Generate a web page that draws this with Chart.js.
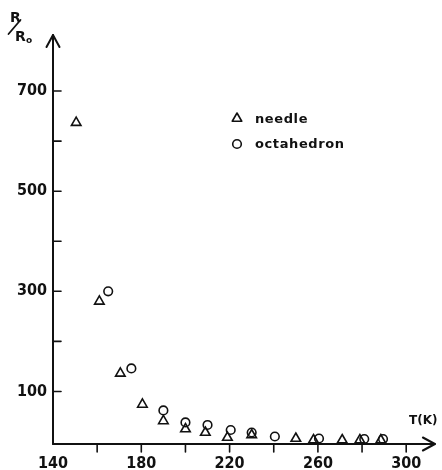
<!DOCTYPE html>
<html><head><meta charset="utf-8">
<script src="https://cdn.jsdelivr.net/npm/chart.js@4/dist/chart.umd.min.js"></script>
<style>html,body{margin:0;padding:0;background:#fff;} #wrap{position:relative;width:442px;height:470px;}</style>
</head><body><div id="wrap"><canvas id="c" width="442" height="470"></canvas></div>
<script>
const needleT = [150.5, 161, 170.5, 180.5, 190, 200, 209, 219, 230, 250, 258, 271, 279, 288.5];
const needleR = [637, 280, 136, 74, 41, 25, 18, 8, 13, 6, 3, 3, 3, 3];
const octaT = [165, 175.5, 190, 200, 210, 220.5, 230, 240.5, 260.5, 281, 289.5];
const octaR = [300, 146, 62, 38, 33, 23, 18, 10, 6, 5, 5];
const xTickValues = [140, 160, 180, 200, 220, 240, 260, 280, 300];
const xTickLabels = [140, 180, 220, 260, 300];
const yTickValues = [100, 200, 300, 400, 500, 600, 700];
const yTickLabels = [100, 300, 500, 700];
const seriesNames = ['needle', 'octahedron'];
const xTitle = 'T(K)';

const toPts = (xs, ys) => xs.map((x, i) => ({x: x, y: ys[i]}));
const INK = '#111';

const axesPlugin = {
  id: 'axesPlugin',
  afterDraw(chart) {
    const ctx = chart.ctx;
    const xs = chart.scales.x, ys = chart.scales.y;
    const ca = chart.chartArea;
    const x0 = ca.left, y0 = ca.bottom;
    ctx.save();
    ctx.strokeStyle = INK; ctx.fillStyle = INK;
    ctx.lineWidth = 2; ctx.lineCap = 'round'; ctx.lineJoin = 'round';
    // y axis
    ctx.beginPath(); ctx.moveTo(x0, y0); ctx.lineTo(x0, ca.top); ctx.stroke();
    ctx.beginPath(); ctx.moveTo(x0 - 6.5, ca.top + 12); ctx.lineTo(x0, ca.top); ctx.lineTo(x0 + 6.5, ca.top + 12); ctx.stroke();
    // x axis
    ctx.beginPath(); ctx.moveTo(x0, y0); ctx.lineTo(ca.right, y0); ctx.stroke();
    ctx.beginPath(); ctx.moveTo(ca.right - 12, y0 - 6.5); ctx.lineTo(ca.right, y0); ctx.lineTo(ca.right - 12, y0 + 6.5); ctx.stroke();
    // ticks
    ctx.lineWidth = 1.6;
    yTickValues.forEach(v => { const p = ys.getPixelForValue(v); ctx.beginPath(); ctx.moveTo(x0, p); ctx.lineTo(x0 + 8, p); ctx.stroke(); });
    xTickValues.forEach(v => { if (v === xs.min) return; const p = xs.getPixelForValue(v); ctx.beginPath(); ctx.moveTo(p, y0); ctx.lineTo(p, y0 + 8); ctx.stroke(); });
    // legend
    const legY = [118.5, 144];
    chart.data.datasets.forEach((ds, i) => {
      ctx.fillStyle = 'rgba(0,0,0,0)'; ctx.strokeStyle = INK; ctx.lineWidth = 1.6;
      Chart.helpers.drawPoint(ctx, {pointStyle: ds.pointStyle, radius: ds.pointRadius, borderWidth: 1.6}, 237, legY[i]);
      ctx.fillStyle = INK;
      ctx.font = 'bold 13px "DejaVu Sans"';
      try { ctx.letterSpacing = '0.6px'; } catch (e) {}
      ctx.textBaseline = 'middle'; ctx.textAlign = 'left';
      ctx.fillText(ds.label, 255, legY[i] + 1);
    });
    try { ctx.letterSpacing = '0px'; } catch (e) {}
    ctx.fillStyle = INK;
    // x title
    ctx.font = 'bold 12px "DejaVu Sans"';
    ctx.textAlign = 'left'; ctx.textBaseline = 'middle';
    ctx.fillText(xTitle, 409, 421);
    // y title R/Ro
    ctx.font = 'bold 14px "DejaVu Sans"';
    ctx.fillText('R', 10, 18);
    ctx.fillText('R', 15, 37);
    ctx.font = 'bold 9px "DejaVu Sans"';
    ctx.fillText('o', 26, 41);
    ctx.lineWidth = 1.8;
    ctx.beginPath(); ctx.moveTo(8.5, 34); ctx.lineTo(20.5, 20); ctx.stroke();
    ctx.restore();
  }
};

new Chart(document.getElementById('c'), {
  type: 'scatter',
  data: {
    datasets: [
      {label: seriesNames[0], data: toPts(needleT, needleR), pointStyle: 'triangle', pointRadius: 5.5,
       borderColor: INK, backgroundColor: 'rgba(0,0,0,0)', pointBorderWidth: 1.6, showLine: false},
      {label: seriesNames[1], data: toPts(octaT, octaR), pointStyle: 'circle', pointRadius: 4.3,
       borderColor: INK, backgroundColor: 'rgba(0,0,0,0)', pointBorderWidth: 1.6, showLine: false}
    ]
  },
  options: {
    responsive: false, animation: false, devicePixelRatio: 1,
    layout: {padding: {left: 0, top: 35, right: 5, bottom: 0}},
    plugins: {legend: {display: false}, tooltip: {enabled: false}},
    elements: {point: {hoverRadius: 5}},
    scales: {
      x: {
        type: 'linear', min: 140, max: 313,
        afterBuildTicks: s => { s.ticks = xTickValues.map(v => ({value: v})); },
        afterFit: s => { s.height = 26; },
        grid: {display: false, drawTicks: false}, border: {display: false},
        ticks: {autoSkip: false, maxRotation: 0, padding: 10, color: INK,
          font: {family: '"DejaVu Sans Condensed"', size: 16, weight: 'bold'},
          callback: v => xTickLabels.includes(v) ? String(v) : ''}
      },
      y: {
        type: 'linear', min: -5, max: 812,
        afterBuildTicks: s => { s.ticks = yTickValues.map(v => ({value: v})); },
        afterFit: s => { s.width = 53; },
        grid: {display: false, drawTicks: false}, border: {display: false},
        ticks: {autoSkip: false, padding: 6, color: INK,
          font: {family: '"DejaVu Sans Condensed"', size: 16, weight: 'bold'},
          callback: v => yTickLabels.includes(v) ? String(v) : ''}
      }
    }
  },
  plugins: [axesPlugin]
});
</script></body></html>
